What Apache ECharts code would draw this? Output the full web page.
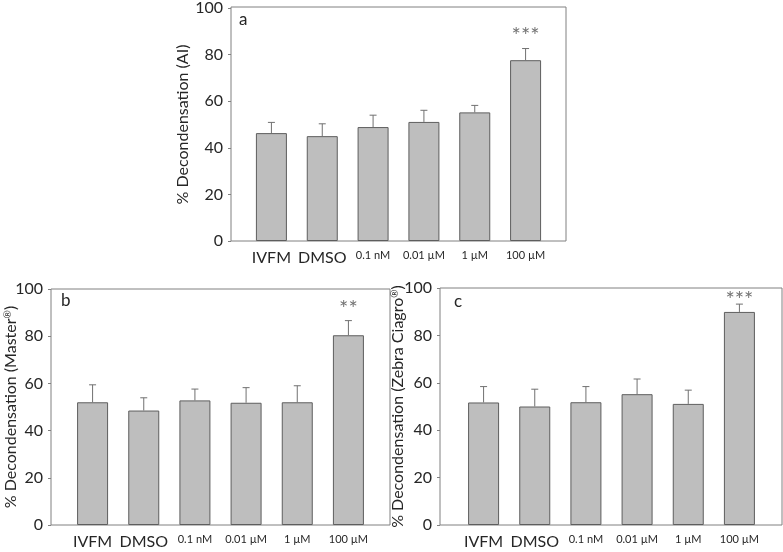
<!DOCTYPE html>
<html>
<head>
<meta charset="utf-8">
<script src="https://cdn.jsdelivr.net/npm/echarts@6/dist/echarts.min.js"></script>
<style>html,body{margin:0;padding:0;background:#fff;}#c{width:783px;height:552px;}</style>
</head>
<body>
<div id="c"></div>
<script>
// ---- data ----
var categories = ['IVFM', 'DMSO', '0.1 nM', '0.01 µM', '1 µM', '100 µM'];
var yTicks = [0, 20, 40, 60, 80, 100];

var meanA = [46.3, 45.0, 48.9, 51.1, 55.2, 77.6];
var errA  = [4.6, 5.3, 5.1, 5.0, 3.0, 5.0];
var starsA = ['', '', '', '', '', '***'];
var starPosA = [0, 0, 0, 0, 0, 90.0];

var meanB = [52.0, 48.5, 52.8, 51.8, 52.0, 80.4];
var errB  = [7.4, 5.4, 4.8, 6.4, 7.0, 6.2];
var starsB = ['', '', '', '', '', '**'];
var starPosB = [0, 0, 0, 0, 0, 93.8];

var meanC = [51.7, 50.0, 51.8, 55.2, 51.1, 89.9];
var errC  = [6.7, 7.3, 6.6, 6.4, 5.8, 3.3];
var starsC = ['', '', '', '', '', '***'];
var starPosC = [0, 0, 0, 0, 0, 96.9];

var yNames = ['% Decondensation (AI)', '% Decondensation (Master®)', '% Decondensation (Zebra Ciagro®)'];
var panelLetters = ['a', 'b', 'c'];

// ---- styling / layout ----
var FONT = 'Lato';
var TXT = '#262626';
var AX = '#808080';
var panels = [
  {mean: meanA, err: errA, stars: starsA, starPos: starPosA,
   frame: {left: 231, right: 217, top: 7, bottom: 311},
   data:  {left: 246, right: 232, top: 7, bottom: 311}, offset: 15, nameGap: 40, barW: 31},
  {mean: meanB, err: errB, stars: starsB, starPos: starPosB,
   frame: {left: 51, right: 393, top: 289, bottom: 27},
   data:  {left: 67, right: 409, top: 289, bottom: 27}, offset: 16, nameGap: 32, barW: 31},
  {mean: meanC, err: errC, stars: starsC, starPos: starPosC,
   frame: {left: 440, right: 1, top: 288, bottom: 27},
   data:  {left: 458, right: 18, top: 288, bottom: 27}, offset: 18, nameGap: 34, barW: 31}
];

var grids = [], xAxes = [], yAxes = [], series = [], graphics = [];

var catData = categories.map(function (c, i) {
  return {value: c, textStyle: {fontSize: i < 2 ? 16 : 11}};
});

panels.forEach(function (p, k) {
  var fi = grids.length;
  grids.push({left: p.frame.left, right: p.frame.right, top: p.frame.top, bottom: p.frame.bottom,
              show: true, borderColor: AX, borderWidth: 1, backgroundColor: 'transparent'});
  xAxes.push({gridIndex: fi, type: 'value', show: false});
  yAxes.push({gridIndex: fi, type: 'value', show: false});

  var di = grids.length;
  grids.push({left: p.data.left, right: p.data.right, top: p.data.top, bottom: p.data.bottom});
  xAxes.push({gridIndex: di, type: 'category', data: catData, boundaryGap: true,
    axisLine: {show: false}, axisTick: {show: false}, splitLine: {show: false},
    axisLabel: {color: TXT, fontFamily: FONT, margin: 9, interval: 0}});
  yAxes.push({gridIndex: di, type: 'value', min: 0, max: 100, interval: 20, offset: p.offset,
    axisLine: {show: false}, splitLine: {show: false},
    axisTick: {show: true, length: 3, inside: false, lineStyle: {color: AX}},
    axisLabel: {color: TXT, fontFamily: FONT, fontSize: 16, margin: 8},
    name: yNames[k].replace('®', '{s|®}'), nameLocation: 'middle', nameRotate: 90, nameGap: p.nameGap,
    nameMoveOverlap: false,
    nameTextStyle: {color: TXT, fontFamily: FONT, fontSize: 16,
      rich: {s: {color: TXT, fontFamily: FONT, fontSize: 10, verticalAlign: 'top', padding: [0, 0, 6, 0]}}}});

  series.push({type: 'bar', xAxisIndex: di, yAxisIndex: di, data: p.mean, barWidth: p.barW,
    itemStyle: {color: '#bebebe', borderColor: '#5e5e5e', borderWidth: 1}, silent: true, z: 2});

  series.push({type: 'custom', xAxisIndex: di, yAxisIndex: di, z: 3, silent: true,
    data: p.mean.map(function (m, i) { return [i, m, m + p.err[i]]; }),
    encode: {x: 0, y: [1, 2]},
    renderItem: function (params, api) {
      var a = api.coord([api.value(0), api.value(1)]);
      var b = api.coord([api.value(0), api.value(2)]);
      var st = {stroke: '#707070', lineWidth: 1};
      return {type: 'group', children: [
        {type: 'line', shape: {x1: a[0], y1: a[1], x2: b[0], y2: b[1]}, style: st},
        {type: 'line', shape: {x1: b[0] - 3.5, y1: b[1], x2: b[0] + 3.5, y2: b[1]}, style: st}
      ]};
    }});

  var sd = [];
  p.stars.forEach(function (s, i) { if (s) sd.push({value: [i, p.starPos[i]], name: s}); });
  series.push({type: 'scatter', xAxisIndex: di, yAxisIndex: di, symbolSize: 0, silent: true, z: 4,
    data: sd,
    label: {show: true, position: 'inside', color: '#505050', fontFamily: FONT, fontSize: 22,
      offset: [0, 5],
      formatter: function (d) { return d.name; }}});
});

graphics.push({type: 'text', left: 239, top: 11, style: {text: panelLetters[0], fill: TXT, font: '17px Lato'}});
graphics.push({type: 'text', left: 61, top: 292, style: {text: panelLetters[1], fill: TXT, font: '17px Lato'}});
graphics.push({type: 'text', left: 454, top: 293, style: {text: panelLetters[2], fill: TXT, font: '17px Lato'}});

var chart = echarts.init(document.getElementById('c'), null, {renderer: 'canvas'});
chart.setOption({
  animation: false,
  backgroundColor: '#fff',
  grid: grids, xAxis: xAxes, yAxis: yAxes, series: series, graphic: graphics
});
</script>
</body>
</html>
